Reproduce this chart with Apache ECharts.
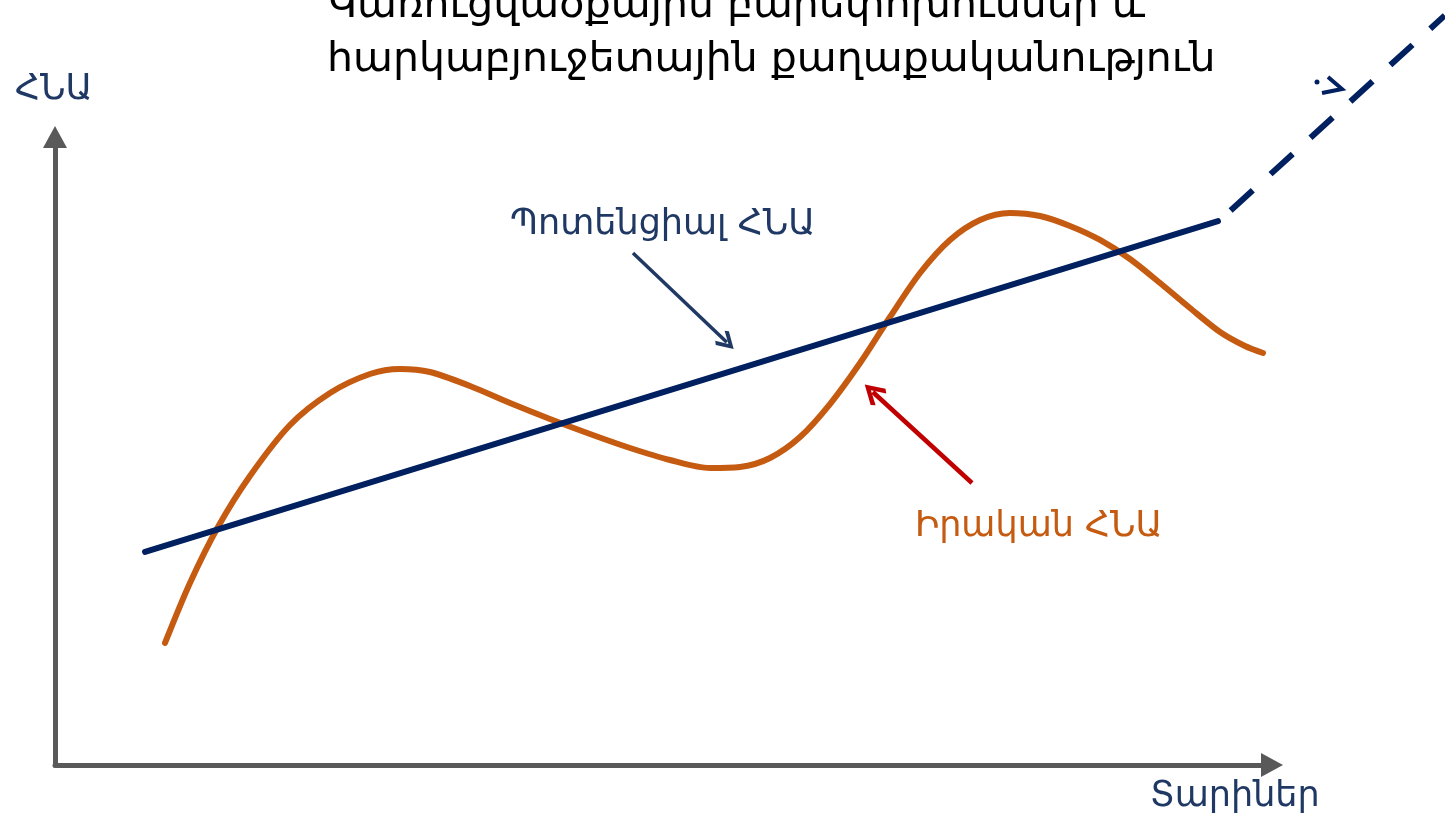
<!DOCTYPE html>
<html>
<head>
<meta charset="utf-8">
<script src="https://cdn.jsdelivr.net/npm/echarts@6/dist/echarts.min.js"></script>
<style>
  html, body { margin: 0; padding: 0; background: #ffffff; }
  #chart { width: 1445px; height: 817px; }
</style>
</head>
<body>
<div id="chart"></div>
<script>
// ---- Data (axis units: x 0..100, y 0..100 inside the drawn axes) ----
const titleLines = ['Կառուցվածքային բարեփոխումներ և', 'հարկաբյուջետային քաղաքականություն'];
const yAxisName = 'ՀՆԱ';
const xAxisName = 'Տարիներ';
const potentialLabel = 'Պոտենցիալ ՀՆԱ';
const actualLabel = 'Իրական ՀՆԱ';

// Actual GDP (orange wave)
const actualX = [9.04, 11.09, 13.39, 16.02, 19.31, 22.60, 25.88, 28.35, 30.81, 34.10, 37.39, 40.67, 43.96, 47.25, 50.53, 53.82, 56.29, 58.75, 61.22, 63.68, 66.15, 68.61, 71.08, 73.54, 76.01, 78.47, 80.94, 83.40, 85.87, 88.33, 90.80, 93.26, 95.73, 97.78, 99.26];
const actualY = [19.43, 28.98, 37.90, 46.02, 54.14, 59.24, 62.26, 63.06, 62.58, 60.35, 57.64, 55.10, 52.71, 50.48, 48.57, 47.29, 47.45, 48.89, 52.23, 57.48, 64.01, 71.34, 78.34, 83.60, 86.78, 87.90, 87.42, 85.83, 83.60, 80.57, 76.75, 72.77, 68.95, 66.72, 65.61];

// Potential GDP (navy trend line)
const potentialX = [7.40, 95.56];
const potentialY = [33.92, 86.62];

// Projected potential GDP (dashed continuation, runs off the top-right corner)
const forecastX = [96.60, 114.20];
const forecastY = [88.30, 119.35];

// Annotation arrows [tail, head]
const potentialArrow = [[47.49, 81.53], [55.20, 67.30]];
const actualArrow = [[75.35, 44.90], [67.20, 59.40]];

const zip = (xs, ys) => xs.map((x, i) => [x, ys[i]]);

const chevron = 'path://M50,0 L100,56 L86,68 L50,26 L14,68 L0,56 Z';
const AFONT = '"DejaVu Sans", "Noto Sans", sans-serif';
const TFONT = '41px "DejaVu Sans", sans-serif';

// pixel scale of one axis unit
const PX_X = 12.17, PX_Y = 6.28, OX = 55, OY = 765;

const chart = echarts.init(document.getElementById('chart'), null, { renderer: 'canvas' });
const axisLineStyle = { color: '#595959', width: 5 };
const hiddenAxis = { show: false, splitLine: { show: false } };
const x2max = (1445 - OX) / PX_X;
const y2max = OY / PX_Y;

chart.setOption({
  animation: false,
  backgroundColor: '#ffffff',
  grid: [
    { left: OX, top: OY - 100 * PX_Y, width: 100 * PX_X, height: 100 * PX_Y, containLabel: false, outerBoundsMode: 'none' },
    { left: OX, top: 0, width: x2max * PX_X, height: y2max * PX_Y, containLabel: false, outerBoundsMode: 'none' }
  ],
  xAxis: [
    {
      type: 'value', min: 0, max: 100, gridIndex: 0,
      axisLine: { show: true, lineStyle: axisLineStyle, symbol: ['none', 'triangle'], symbolSize: [24, 22] },
      axisTick: { show: false }, axisLabel: { show: false }, splitLine: { show: false }
    },
    Object.assign({ type: 'value', min: 0, max: x2max, gridIndex: 1 }, hiddenAxis)
  ],
  yAxis: [
    {
      type: 'value', min: 0, max: 100, gridIndex: 0,
      axisLine: { show: true, lineStyle: axisLineStyle, symbol: ['none', 'triangle'], symbolSize: [24, 22] },
      axisTick: { show: false }, axisLabel: { show: false }, splitLine: { show: false }
    },
    Object.assign({ type: 'value', min: 0, max: y2max, gridIndex: 1 }, hiddenAxis)
  ],
  series: [
    {
      name: 'actual', type: 'line', data: zip(actualX, actualY), smooth: 0.3,
      showSymbol: false, clip: false,
      lineStyle: { color: '#C55A11', width: 6, cap: 'round', join: 'round' }, z: 3
    },
    {
      name: 'potential', type: 'line', data: zip(potentialX, potentialY),
      showSymbol: false, clip: false,
      lineStyle: { color: '#002060', width: 6, cap: 'round' }, z: 4
    },
    {
      name: 'forecast', type: 'line', data: zip(forecastX, forecastY),
      xAxisIndex: 1, yAxisIndex: 1,
      showSymbol: false, clip: false,
      lineStyle: { color: '#002060', width: 6, type: [30, 24], cap: 'butt' }, z: 4
    },
    {
      type: 'lines', coordinateSystem: 'cartesian2d',
      symbol: ['none', chevron], symbolSize: [28, 19],
      lineStyle: { color: '#1F3864', width: 3.5, opacity: 1 },
      data: [{ coords: potentialArrow }],
      z: 5
    },
    {
      type: 'lines', coordinateSystem: 'cartesian2d',
      symbol: ['none', chevron], symbolSize: [32, 22],
      lineStyle: { color: '#C00000', width: 4.5, opacity: 1 },
      data: [{ coords: actualArrow }],
      z: 5
    }
  ],
  graphic: [
    { type: 'text', x: 327, y: 6, style: { text: titleLines[0], font: TFONT, fill: '#000', verticalAlign: 'middle', align: 'left' } },
    { type: 'text', x: 327, y: 60, style: { text: titleLines[1], font: TFONT, fill: '#000', verticalAlign: 'middle', align: 'left' } },
    { type: 'text', x: 15, y: 90, style: { text: yAxisName, font: '35px ' + AFONT, fill: '#1F3864', verticalAlign: 'middle', align: 'left' } },
    { type: 'text', x: 1150, y: 797, style: { text: xAxisName, font: '35px ' + AFONT, fill: '#1F3864', verticalAlign: 'middle', align: 'left' } },
    { type: 'text', x: 510, y: 225, style: { text: potentialLabel, font: '35px ' + AFONT, fill: '#1F3864', verticalAlign: 'middle', align: 'left' } },
    { type: 'text', x: 915, y: 527, style: { text: actualLabel, font: '35px ' + AFONT, fill: '#C55A11', verticalAlign: 'middle', align: 'left' } },
    { type: 'polyline', shape: { points: [[1328, 77], [1342, 89], [1322, 93]] }, style: { stroke: '#002060', lineWidth: 4, fill: null } },
    { type: 'circle', shape: { cx: 1317, cy: 82, r: 2.5 }, style: { fill: '#002060' } }
  ]
});
</script>
</body>
</html>
